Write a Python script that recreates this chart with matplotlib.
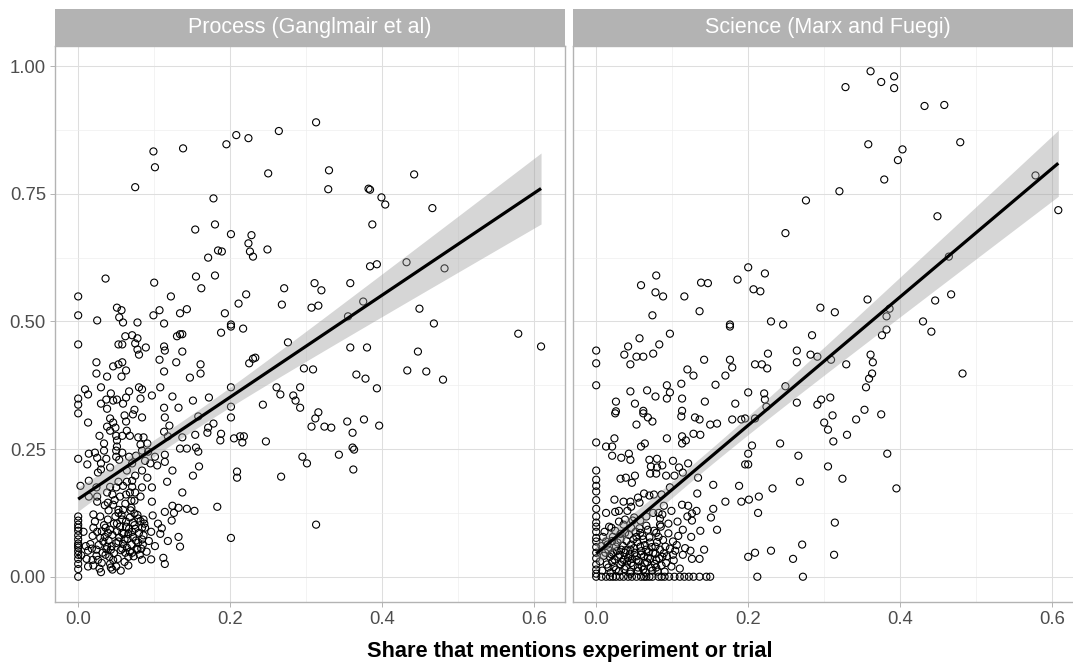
import numpy as np
import matplotlib
matplotlib.use("Agg")
import matplotlib.pyplot as plt

plt.rcParams['font.family'] = ['Liberation Sans', 'DejaVu Sans']

# ---------------- data: Process (Ganglmair et al) ----------------
proc_high = [(0.099,0.833),(0.138,0.839),(0.101,0.802),(0.075,0.763),(0.195,0.847),(0.208,0.865),(0.224,0.859),
    (0.264,0.873),(0.313,0.890),(0.250,0.790),(0.330,0.796),(0.329,0.759),(0.382,0.760),(0.384,0.758),(0.399,0.743),
    (0.404,0.729),(0.442,0.788),(0.466,0.722),(0.387,0.690),(0.178,0.741),(0.180,0.690),(0.154,0.680),(0.171,0.625),
    (0.184,0.639),(0.189,0.637),(0.155,0.588),(0.180,0.590),(0.162,0.565),(0.201,0.671),(0.228,0.669),(0.224,0.653),
    (0.226,0.637),(0.230,0.627),(0.249,0.641),(0.384,0.608),(0.393,0.612),(0.432,0.616),(0.482,0.604),(0.271,0.565),
    (0.311,0.575),(0.320,0.561),(0.358,0.575),(0.221,0.553),(0.211,0.535),(0.268,0.533),(0.307,0.527),(0.316,0.531),
    (0.375,0.539),(0.355,0.510),(0.193,0.516),(0.449,0.525),(0.036,0.584),(0.100,0.576),(0.122,0.549),(0.0,0.549),
    (0.0,0.512),(0.025,0.502),(0.051,0.527),(0.057,0.522),(0.054,0.508),(0.099,0.512),(0.107,0.522),(0.134,0.516),
    (0.143,0.524)]
proc_mid = [(0.201,0.494),(0.468,0.496),(0.059,0.498),(0.078,0.498),(0.113,0.496),(0.201,0.490),(0.217,0.486),
    (0.276,0.459),(0.225,0.418),(0.230,0.427),(0.233,0.429),(0.297,0.408),(0.309,0.406),(0.358,0.449),(0.380,0.449),
    (0.366,0.396),(0.378,0.388),(0.393,0.369),(0.201,0.371),(0.261,0.371),(0.266,0.357),(0.292,0.371),(0.283,0.355),
    (0.286,0.345),(0.292,0.331),(0.201,0.333),(0.243,0.337),(0.316,0.322),(0.447,0.441),(0.433,0.404),(0.458,0.402),
    (0.480,0.386),(0.579,0.476),(0.609,0.451),(0.0,0.455),(0.062,0.471),(0.071,0.473),(0.078,0.467),(0.053,0.455),
    (0.058,0.455),(0.075,0.457),(0.089,0.449),(0.078,0.445),(0.080,0.435),(0.113,0.451),(0.114,0.443),(0.130,0.471),
    (0.134,0.475),(0.137,0.475),(0.137,0.441),(0.188,0.478),(0.107,0.425),(0.129,0.420),(0.113,0.402),(0.161,0.416),
    (0.161,0.398),(0.147,0.390),(0.024,0.420),(0.024,0.398),(0.038,0.392),(0.046,0.412),(0.053,0.416),(0.058,0.420),
    (0.063,0.404),(0.057,0.392),(0.009,0.367),(0.013,0.357),(0.0,0.349),(0.0,0.337),(0.0,0.320),(0.030,0.371),
    (0.043,0.359),(0.037,0.347),(0.030,0.339),(0.038,0.329),(0.051,0.347),(0.046,0.345),(0.059,0.339),(0.063,0.351),
    (0.067,0.363),(0.080,0.371),(0.084,0.367),(0.082,0.349),(0.097,0.355),(0.108,0.371),(0.124,0.353),(0.113,0.331),
    (0.132,0.331),(0.151,0.345),(0.172,0.351),(0.074,0.327),(0.072,0.318),(0.084,0.312),(0.061,0.316),(0.201,0.312),
    (0.312,0.310),(0.158,0.314),(0.114,0.312)]
proc_low = [(0.307,0.294),(0.324,0.294),(0.333,0.292),(0.354,0.304),(0.376,0.308),(0.396,0.296),(0.361,0.282),
    (0.205,0.271),(0.213,0.275),(0.218,0.275),(0.216,0.263),(0.247,0.265),(0.361,0.253),(0.363,0.249),(0.343,0.239),
    (0.295,0.235),(0.301,0.222),(0.362,0.210),(0.209,0.206),(0.209,0.194),(0.267,0.196),(0.013,0.302),(0.042,0.310),
    (0.038,0.294),(0.046,0.302),(0.049,0.292),(0.063,0.304),(0.028,0.276),(0.042,0.286),(0.050,0.276),(0.051,0.267),
    (0.058,0.276),(0.064,0.286),(0.068,0.276),(0.079,0.273),(0.086,0.273),(0.091,0.261),(0.082,0.259),(0.034,0.261),
    (0.051,0.255),(0.050,0.247),(0.120,0.296),(0.113,0.284),(0.118,0.275),(0.137,0.273),(0.154,0.278),(0.171,0.292),
    (0.178,0.300),(0.170,0.282),(0.188,0.280),(0.187,0.267),(0.134,0.251),(0.143,0.251),(0.155,0.253),(0.158,0.245),
    (0.159,0.216),(0.151,0.198),(0.0,0.231),(0.012,0.220),(0.014,0.241),(0.022,0.243),(0.025,0.233),(0.034,0.247),
    (0.037,0.231),(0.030,0.222),(0.026,0.204),(0.030,0.210),(0.042,0.214),(0.050,0.235),(0.054,0.229),(0.058,0.243),
    (0.067,0.235),(0.076,0.237),(0.071,0.222),(0.064,0.208),(0.084,0.247),(0.092,0.245),(0.088,0.227),(0.095,0.222),
    (0.104,0.218),(0.101,0.235),(0.114,0.239),(0.114,0.225),(0.124,0.208),(0.084,0.208),(0.091,0.194),(0.117,0.186),
    (0.097,0.175),(0.003,0.178),(0.014,0.188),(0.024,0.175),(0.014,0.157),(0.025,0.157),(0.025,0.147),(0.038,0.165),
    (0.042,0.176),(0.050,0.175),(0.053,0.186),(0.059,0.178),(0.064,0.186),(0.071,0.188),(0.071,0.176),(0.075,0.198),
    (0.045,0.161),(0.055,0.157),(0.063,0.161),(0.068,0.165),(0.075,0.165),(0.084,0.175),(0.082,0.157),(0.070,0.149),
    (0.074,0.149),(0.097,0.147),(0.137,0.165)]
proc_floor = [(0.313,0.102),(0.201,0.076),(0.039,0.145),(0.046,0.141),(0.053,0.131),(0.059,0.131),(0.070,0.135),
    (0.074,0.124),(0.124,0.139),(0.114,0.127),(0.126,0.125),(0.132,0.135),(0.143,0.133),(0.153,0.129),(0.183,0.137),
    (0.020,0.122),(0.0,0.118),(0.0,0.102),(0.0,0.096),(0.0,0.090),(0.0,0.073),(0.0,0.065),(0.0,0.057),(0.0,0.043),
    (0.0,0.035),(0.0,0.025),(0.0,0.0),(0.011,0.035),(0.018,0.055),(0.013,0.051),(0.020,0.022),(0.028,0.016),
    (0.020,0.096),(0.025,0.088),(0.029,0.076),(0.036,0.096),(0.033,0.069),(0.039,0.086),(0.038,0.059),(0.043,0.053),
    (0.036,0.043),(0.041,0.039),(0.046,0.033),(0.050,0.020),(0.045,0.014),(0.053,0.125),(0.058,0.112),(0.051,0.104),
    (0.063,0.098),(0.068,0.116),(0.072,0.106),(0.079,0.114),(0.086,0.112),(0.075,0.094),(0.084,0.096),(0.087,0.104),
    (0.058,0.086),(0.061,0.073),(0.066,0.084),(0.053,0.069),(0.058,0.055),(0.062,0.047),(0.072,0.078),(0.079,0.067),
    (0.084,0.073),(0.083,0.055),(0.078,0.053),(0.071,0.047),(0.066,0.039),(0.084,0.033),(0.105,0.104),(0.108,0.084),
    (0.132,0.078),(0.134,0.059),(0.112,0.037),(0.114,0.025),(0.032,0.047),(0.026,0.033),(0.024,0.053),(0.013,0.020)]
proc_cluster = [(0.016,0.064),(0.019,0.080),(0.022,0.108),(0.024,0.041),(0.027,0.062),(0.029,0.118),(0.031,0.089),
    (0.031,0.027),(0.034,0.101),(0.035,0.078),(0.037,0.054),(0.039,0.112),(0.040,0.071),(0.042,0.092),(0.042,0.025),
    (0.044,0.060),(0.045,0.082),(0.047,0.104),(0.047,0.046),(0.049,0.118),(0.050,0.066),(0.051,0.089),(0.052,0.035),
    (0.054,0.077),(0.055,0.098),(0.056,0.052),(0.057,0.121),(0.059,0.064),(0.060,0.084),(0.061,0.029),(0.063,0.108),
    (0.064,0.057),(0.065,0.074),(0.067,0.094),(0.068,0.049),(0.069,0.130),(0.070,0.063),(0.071,0.088),(0.073,0.040),
    (0.074,0.101),(0.076,0.071),(0.077,0.055),(0.078,0.121),(0.080,0.086),(0.081,0.043),(0.082,0.109),(0.085,0.063),
    (0.086,0.081),(0.088,0.096),(0.090,0.049),(0.093,0.070),(0.096,0.088),(0.040,0.130),(0.035,0.140),(0.048,0.150),
    (0.062,0.143),(0.043,0.018),(0.056,0.012),(0.030,0.009),(0.066,0.022),(0.019,0.033),(0.010,0.060),(0.007,0.088),
    (0.0,0.081),(0.0,0.110),(0.0,0.050),(0.0,0.015),(0.0,0.061),(0.004,0.042),(0.101,0.060),(0.098,0.120),
    (0.110,0.095),(0.118,0.070),(0.123,0.110),(0.096,0.034)]

# ---------------- data: Science (Marx and Fuegi) ----------------
sci_high = [(0.079,0.590),(0.059,0.571),(0.078,0.557),(0.088,0.549),(0.116,0.549),(0.138,0.576),(0.147,0.575),
    (0.186,0.582),(0.074,0.512),(0.136,0.520),(0.361,0.990),(0.392,0.980),(0.375,0.969),(0.392,0.957),(0.328,0.959),
    (0.358,0.847),(0.403,0.837),(0.397,0.816),(0.379,0.778),(0.320,0.755),(0.276,0.737),(0.249,0.673),(0.200,0.606),
    (0.222,0.594),(0.207,0.563),(0.216,0.559),(0.295,0.527),(0.314,0.518),(0.357,0.543),(0.386,0.525),(0.382,0.510),
    (0.230,0.500),(0.432,0.922),(0.458,0.924),(0.479,0.851),(0.578,0.786),(0.608,0.718),(0.449,0.706),(0.464,0.627),
    (0.446,0.541),(0.467,0.553),(0.430,0.500)]
sci_mid = [(0.176,0.494),(0.246,0.494),(0.441,0.480),(0.482,0.398),(0.284,0.473),(0.382,0.484),(0.376,0.473),
    (0.361,0.435),(0.364,0.420),(0.363,0.398),(0.359,0.388),(0.355,0.371),(0.353,0.327),(0.375,0.318),(0.342,0.308),
    (0.329,0.416),(0.309,0.425),(0.291,0.431),(0.282,0.435),(0.264,0.443),(0.264,0.420),(0.226,0.437),(0.209,0.416),
    (0.218,0.416),(0.225,0.408),(0.249,0.373),(0.200,0.361),(0.221,0.359),(0.222,0.347),(0.224,0.333),(0.264,0.341),
    (0.291,0.337),(0.296,0.347),(0.308,0.351),(0.311,0.316),(0.300,0.302),(0.305,0.288),(0.312,0.265),(0.330,0.278),
    (0.196,0.310),(0.209,0.310),(0.205,0.257),(0.242,0.261),(0.176,0.490),(0.097,0.476),(0.057,0.467),(0.042,0.451),
    (0.083,0.455),(0.075,0.437),(0.0,0.443),(0.0,0.418),(0.0,0.375),(0.037,0.435),(0.053,0.431),(0.062,0.431),
    (0.045,0.416),(0.142,0.425),(0.176,0.425),(0.179,0.410),(0.120,0.406),(0.128,0.394),(0.170,0.394),(0.157,0.376),
    (0.093,0.375),(0.112,0.378),(0.097,0.361),(0.093,0.349),(0.113,0.349),(0.143,0.343),(0.183,0.339),(0.067,0.365),
    (0.078,0.353),(0.045,0.363),(0.026,0.343),(0.051,0.339),(0.026,0.324),(0.025,0.320),(0.062,0.325),(0.062,0.320),
    (0.068,0.312),(0.074,0.304),(0.053,0.298),(0.113,0.325),(0.112,0.314),(0.130,0.312),(0.136,0.308),(0.150,0.298),
    (0.159,0.300),(0.179,0.308),(0.191,0.308),(0.128,0.280),(0.137,0.278),(0.093,0.271),(0.113,0.275),(0.118,0.267),
    (0.113,0.261),(0.0,0.263),(0.013,0.255),(0.021,0.255),(0.024,0.271),(0.059,0.255),(0.064,0.261)]
sci_low = [(0.200,0.241),(0.266,0.237),(0.200,0.220),(0.196,0.220),(0.305,0.216),(0.324,0.192),(0.268,0.186),
    (0.383,0.241),(0.395,0.173),(0.232,0.173),(0.214,0.157),(0.201,0.151),(0.213,0.125),(0.314,0.106),(0.021,0.237),
    (0.033,0.233),(0.043,0.241),(0.045,0.229),(0.070,0.229),(0.080,0.231),(0.087,0.218),(0.072,0.216),(0.080,0.214),
    (0.071,0.202),(0.079,0.202),(0.101,0.227),(0.109,0.214),(0.121,0.222),(0.114,0.204),(0.092,0.198),(0.103,0.198),
    (0.032,0.192),(0.039,0.194),(0.051,0.198),(0.047,0.184),(0.0,0.190),(0.0,0.167),(0.024,0.151),(0.036,0.147),
    (0.045,0.147),(0.055,0.155),(0.063,0.163),(0.070,0.159),(0.076,0.161),(0.057,0.145),(0.046,0.137),(0.086,0.161),
    (0.097,0.175),(0.134,0.194),(0.154,0.180),(0.133,0.163),(0.170,0.147),(0.188,0.178),(0.191,0.147),(0.0,0.133),
    (0.0,0.118),(0.0,0.106),(0.013,0.125),(0.025,0.127),(0.030,0.129),(0.041,0.129),(0.030,0.108),(0.038,0.112),
    (0.050,0.116),(0.058,0.110),(0.066,0.118),(0.075,0.125),(0.082,0.125),(0.087,0.122),(0.099,0.129),(0.089,0.139),
    (0.113,0.141),(0.121,0.139),(0.126,0.124),(0.120,0.118),(0.132,0.129),(0.126,0.110),(0.154,0.133),(0.151,0.116),
    (0.084,0.114),(0.084,0.102),(0.095,0.104),(0.107,0.108)]
sci_floor = [(0.271,0.063),(0.230,0.051),(0.209,0.047),(0.200,0.039),(0.259,0.035),(0.313,0.043),(0.212,0.0),
    (0.272,0.0),(0.020,0.096),(0.137,0.090),(0.159,0.092),(0.114,0.092),(0.108,0.080),(0.125,0.078),(0.0,0.076),
    (0.0,0.069),(0.0,0.047),(0.0,0.024),(0.0,0.014),(0.0,0.0),(0.101,0.069),(0.104,0.051),(0.101,0.043),(0.114,0.043),
    (0.124,0.051),(0.126,0.035),(0.136,0.035),(0.142,0.053),(0.096,0.0),(0.103,0.0),(0.122,0.0),(0.136,0.0),(0.150,0.0),
    (0.013,0.0),(0.018,0.0),(0.026,0.0),(0.036,0.0),(0.042,0.0),(0.053,0.0),(0.059,0.0),(0.066,0.0),(0.074,0.0),
    (0.082,0.0),(0.009,0.078),(0.013,0.069),(0.012,0.047),(0.016,0.053),(0.018,0.039),(0.022,0.047),(0.021,0.029),
    (0.026,0.059),(0.029,0.039),(0.032,0.024),(0.033,0.053),(0.036,0.033),(0.038,0.047),(0.039,0.020),(0.042,0.037),
    (0.045,0.053),(0.046,0.027),(0.049,0.073),(0.051,0.047),(0.053,0.033),(0.055,0.018),(0.058,0.059),(0.059,0.043),
    (0.062,0.073),(0.064,0.027),(0.066,0.053),(0.068,0.037),(0.071,0.067),(0.072,0.018),(0.075,0.047),(0.078,0.059),
    (0.079,0.033),(0.082,0.078),(0.084,0.053),(0.087,0.039),(0.091,0.059),(0.092,0.027),(0.079,0.018),(0.062,0.014),
    (0.045,0.010),(0.026,0.014),(0.016,0.018),(0.022,0.078),(0.038,0.086),(0.046,0.096),(0.058,0.086),(0.068,0.092),
    (0.079,0.086),(0.032,0.073),(0.053,0.078)]
sci_cluster = [(0.005,0.030),(0.007,0.060),(0.008,0.012),(0.010,0.041),(0.011,0.088),(0.014,0.024),(0.015,0.063),
    (0.017,0.098),(0.019,0.008),(0.020,0.044),(0.021,0.070),(0.023,0.019),(0.024,0.034),(0.025,0.090),(0.027,0.050),
    (0.028,0.067),(0.030,0.011),(0.031,0.043),(0.032,0.084),(0.034,0.029),(0.035,0.061),(0.036,0.102),(0.037,0.015),
    (0.039,0.052),(0.040,0.070),(0.041,0.030),(0.043,0.082),(0.044,0.044),(0.045,0.006),(0.046,0.063),(0.047,0.035),
    (0.048,0.110),(0.049,0.022),(0.050,0.056),(0.052,0.088),(0.053,0.040),(0.054,0.068),(0.055,0.011),(0.056,0.030),
    (0.057,0.095),(0.059,0.050),(0.060,0.020),(0.061,0.080),(0.063,0.040),(0.064,0.062),(0.065,0.008),(0.066,0.100),
    (0.067,0.028),(0.069,0.048),(0.070,0.077),(0.071,0.035),(0.073,0.058),(0.074,0.012),(0.076,0.090),(0.077,0.025),
    (0.078,0.045),(0.080,0.068),(0.081,0.010),(0.083,0.036),(0.085,0.098),(0.086,0.022),(0.088,0.072),(0.089,0.046),
    (0.090,0.010),(0.093,0.040),(0.095,0.085),(0.097,0.055),(0.099,0.020),(0.102,0.032),(0.106,0.062),(0.110,0.016),
    (0.117,0.056),(0.0,0.006),(0.0,0.036),(0.0,0.058),(0.0,0.088),(0.0,0.098),(0.0,0.150),(0.0,0.178),(0.0,0.208),
    (0.007,0.0),(0.022,0.0),(0.031,0.0),(0.047,0.0),(0.063,0.0),(0.070,0.0),(0.086,0.0),(0.090,0.0),(0.110,0.0),
    (0.116,0.0),(0.128,0.0),(0.145,0.0)]

# fitted lines (intercept, slope)
fit_lines = [(0.152, 0.999), (0.045, 1.258)]

panel_titles = ["Process (Ganglmair et al)", "Science (Marx and Fuegi)"]
x_ticks = [0.0, 0.2, 0.4, 0.6]
x_ticklabels = ["0.0", "0.2", "0.4", "0.6"]
y_ticks = [0.0, 0.25, 0.5, 0.75, 1.0]
y_ticklabels = ["0.00", "0.25", "0.50", "0.75", "1.00"]
x_label = "Share that mentions experiment or trial"

panels = [np.array(proc_high + proc_mid + proc_low + proc_floor + proc_cluster),
          np.array(sci_high + sci_mid + sci_low + sci_floor + sci_cluster)]

# ---------------- figure ----------------
W, H = 1073, 666
fig = plt.figure(figsize=(W / 100, H / 100), dpi=100)
fig.patch.set_facecolor("white")

panel_top, panel_bot = 46, 602
strip_top = 9
lefts = [55, 573]
pw = 510

xlim = (-0.0305, 0.6405)
ylim = (-0.0495, 1.0395)
tick_col = "#4D4D4D"
border_col = "#B3B3B3"

for i, (pts, title) in enumerate(zip(panels, panel_titles)):
    ax = fig.add_axes([lefts[i] / W, (H - panel_bot) / H, pw / W, (panel_bot - panel_top) / H])
    ax.set_xlim(*xlim)
    ax.set_ylim(*ylim)
    ax.set_facecolor("white")
    ax.set_xticks(x_ticks)
    ax.set_xticklabels(x_ticklabels)
    ax.set_xticks([0.1, 0.3, 0.5], minor=True)
    ax.set_yticks(y_ticks)
    ax.set_yticks([0.125, 0.375, 0.625, 0.875], minor=True)
    if i == 0:
        ax.set_yticklabels(y_ticklabels)
    else:
        ax.tick_params(axis="y", which="both", left=False, labelleft=False)
    ax.grid(which="major", color="#DEDEDE", linewidth=0.75)
    ax.grid(which="minor", color="#EDEDED", linewidth=0.45)
    ax.set_axisbelow(True)
    ax.tick_params(axis="both", which="major", length=3.5, width=0.7, color=border_col,
                   labelsize=13.3, labelcolor=tick_col, pad=3)
    ax.tick_params(axis="both", which="minor", length=0)
    for sp in ax.spines.values():
        sp.set_color(border_col)
        sp.set_linewidth(1.0)

    x = pts[:, 0]
    y = pts[:, 1]
    ax.scatter(x, y, s=26, facecolors="none", edgecolors="black", linewidths=0.8, zorder=2)

    # fitted line with 95% confidence band
    intercept, slope = fit_lines[i]
    n = len(x)
    resid = y - (intercept + slope * x)
    s = np.sqrt(np.sum(resid ** 2) / (n - 2))
    xm = x.mean()
    sxx = np.sum((x - xm) ** 2)
    xs = np.linspace(x.min(), x.max(), 100)
    yf = intercept + slope * xs
    se = s * np.sqrt(1.0 / n + (xs - xm) ** 2 / sxx)
    tq = 1.965
    ax.fill_between(xs, yf - tq * se, yf + tq * se, color="#999999", alpha=0.4, linewidth=0, zorder=3)
    ax.plot(xs, yf, color="black", linewidth=2.3, zorder=4, solid_capstyle="butt")

    # strip
    sax = fig.add_axes([lefts[i] / W, (H - panel_top) / H, pw / W, (panel_top - strip_top) / H])
    sax.set_facecolor("#B3B3B3")
    sax.set_xticks([])
    sax.set_yticks([])
    for sp in sax.spines.values():
        sp.set_visible(False)
    sax.text(0.5, 0.5, title, color="white", fontsize=15.5, ha="center", va="center",
             transform=sax.transAxes)

fig.text(570 / W, (H - 652) / H, x_label, fontsize=15.7, fontweight="bold", ha="center", va="center",
         color="black")

fig.savefig("out.png", dpi=100)
